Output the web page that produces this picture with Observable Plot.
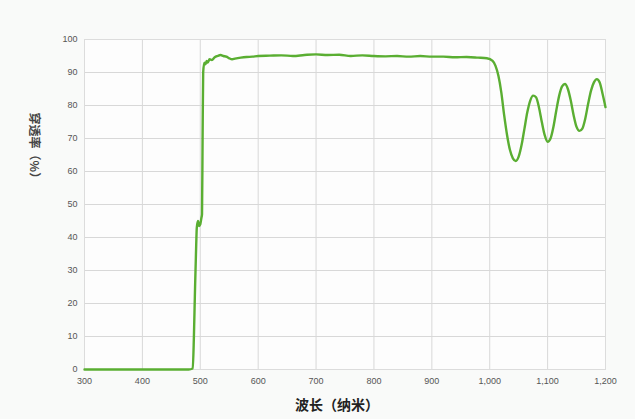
<!DOCTYPE html>
<html>
<head>
<meta charset="utf-8">
<script src="https://cdn.jsdelivr.net/npm/d3@7"></script>
<script src="https://cdn.jsdelivr.net/npm/@observablehq/plot@0.6"></script>
<style>
  html, body { margin: 0; padding: 0; background: #f9faf9; }
  #chart { width: 635px; height: 419px; }
  svg { font-family: "Liberation Sans", Arial, "Noto Sans CJK SC", sans-serif; }
</style>
</head>
<body>
<div id="chart"></div>
<script>
const wavelength = [300, 480, 487, 489, 491, 493, 494, 496, 498, 500, 502, 503, 504, 505, 507, 509, 511, 513, 516, 520, 525, 530, 535, 540, 545, 550, 555, 560, 570, 580, 590, 600, 620, 640, 660, 680, 700, 720, 740, 760, 780, 800, 820, 840, 860, 880, 900, 920, 940, 960, 980, 995, 1005, 1010, 1015, 1020, 1025, 1030, 1035, 1040, 1045, 1050, 1055, 1060, 1065, 1070, 1075, 1080, 1085, 1090, 1095, 1100, 1105, 1110, 1115, 1120, 1125, 1130, 1135, 1140, 1145, 1150, 1155, 1160, 1165, 1170, 1175, 1180, 1185, 1190, 1195, 1200];
const transmittance = [0, 0, 0.3, 10, 25, 38, 43, 45, 43.5, 44, 46, 47, 70, 90, 93, 92.5, 93.5, 93, 94, 93.8, 94.6, 95, 95.3, 95, 94.8, 94.3, 94.0, 94.2, 94.5, 94.7, 94.8, 95, 95.1, 95.2, 95.0, 95.3, 95.5, 95.3, 95.4, 95.0, 95.2, 95.0, 94.9, 95.0, 94.8, 95.0, 94.8, 94.8, 94.6, 94.7, 94.5, 94.3, 93.5, 92, 89, 84, 77, 71, 66.5, 64, 63.2, 64.5, 68, 73, 78, 81.5, 83, 82.5, 79.5, 75, 71, 69, 70, 73.5, 78.5, 83, 85.8, 86.5, 85, 81.5, 77, 73.5, 72.3, 73, 76, 80.5, 84.5, 87, 88, 87, 83.5, 79.5];
const xTicks = [300, 400, 500, 600, 700, 800, 900, 1000, 1100, 1200];
const yTicks = [0, 10, 20, 30, 40, 50, 60, 70, 80, 90, 100];
const xTitle = "波长（纳米）";
const yTitle = "穿透率（%）";

const data = wavelength.map((w, i) => ({w, t: transmittance[i]}));

const chart = Plot.plot({
  width: 635,
  height: 419,
  marginTop: 39,
  marginBottom: 50,
  marginLeft: 84,
  marginRight: 30,
  style: {background: "transparent", fontSize: "9px", color: "#555"},
  x: {domain: [300, 1200], ticks: xTicks, tickSize: 0, tickPadding: 8, label: null},
  y: {domain: [0, 100], ticks: yTicks, tickSize: 0, tickPadding: 7, label: null},
  marks: [
    Plot.frame({fill: "#fdfdfd"}),
    Plot.gridX(xTicks, {stroke: "#d8d8d8", strokeOpacity: 1}),
    Plot.gridY(yTicks, {stroke: "#d8d8d8", strokeOpacity: 1}),
    Plot.frame({stroke: "#dcdcdc"}),
    Plot.axisX(xTicks, {tickSize: 0, tickPadding: 8, fill: "#555", fontSize: 9}),
    Plot.axisY(yTicks, {tickSize: 0, tickPadding: 7, fill: "#555", fontSize: 9}),
    Plot.line(data, {x: "w", y: "t", stroke: "#5aae32", strokeWidth: 2.4, curve: "monotone-x"}),
    Plot.text([xTitle], {frameAnchor: "bottom", dy: 40, dx: -8, text: d => d, fontSize: 14, fontWeight: "bold", fill: "#222", fontFamily: "Noto Sans CJK SC"}),
    Plot.text([{y: 67}], {y: "y", frameAnchor: "left", textAnchor: "middle", dx: -51, rotate: 90, text: () => yTitle, fontSize: 12, fontWeight: "bold", fill: "#444", fontFamily: "Noto Sans CJK SC"})
  ]
});
document.getElementById("chart").appendChild(chart);
</script>
</body>
</html>
